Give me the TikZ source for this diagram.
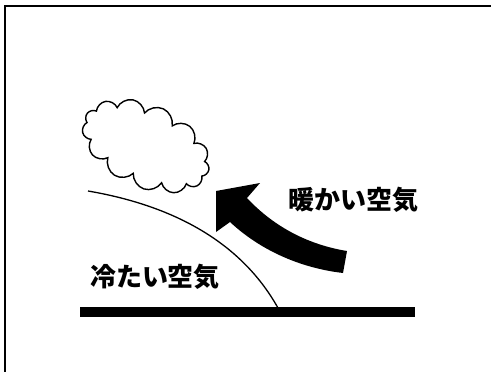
\documentclass[tikz,border=0pt]{standalone}
\usepackage{fontspec}
\newfontfamily\jp{Noto Sans CJK JP}
\usetikzlibrary{shapes.symbols}

\begin{document}
\begin{tikzpicture}[
  x=1pt, y=-1pt,
  ground/.style={line width=10pt},
  front/.style={line width=1.3pt},
  airtext/.style={font=\jp\bfseries\fontsize{26}{26}\selectfont, inner sep=0pt},
  puff/.style={cloud, cloud puffs=13, cloud ignores aspect, draw, line width=1.4pt,
    minimum width=135pt, minimum height=82pt}
]
  \useasboundingbox (0,0) rectangle (491,372);
  \draw[line width=1.2pt] (5,372) -- (5,6) -- (491,6);

  \node[puff, rotate=-25] (cloud) at (146,146) {};

  % ground and the cold front
  \coordinate (left) at (80,312);
  \coordinate (right) at (415,312);
  \draw[ground] (left) -- (right);
  \coordinate (top) at (88,191);
  \coordinate (foot) at (278,308);
  \draw[front] (top) .. controls (170,205) and (240,240) .. (foot);

  % warm air rising
  \fill (347,251) .. controls (310,245) and (275,228) .. (247,198) -- (260,183)
    -- (216,191) -- (216,232) -- (230,222)
    .. controls (260,250) and (300,268) .. (343,273) -- cycle;

  \node[airtext] (warm) at (353,200) {暖かい空気};
  \node[airtext] (cold) at (155,277) {冷たい空気};
\end{tikzpicture}
\end{document}
